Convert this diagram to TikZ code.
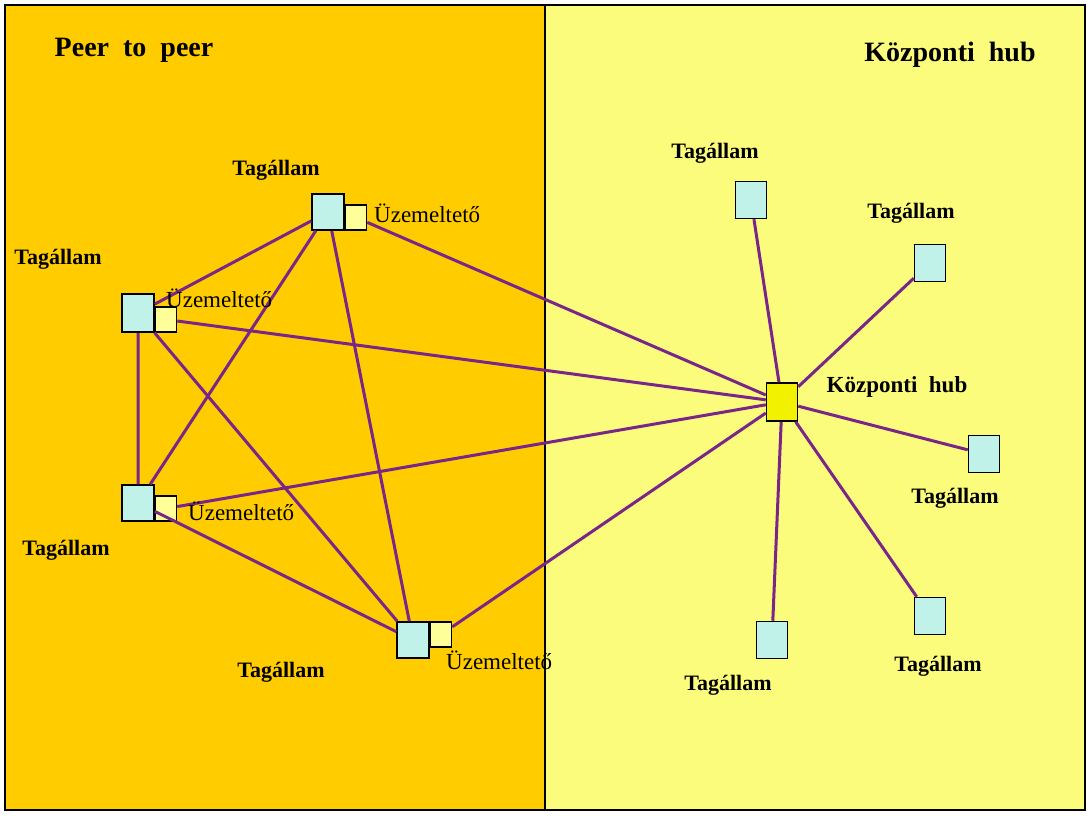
\documentclass[tikz,border=0pt]{standalone}
\usepackage{fontspec}
\setmainfont{Liberation Serif}
\usetikzlibrary{positioning}
\definecolor{peerbg}{HTML}{FFCC00}
\definecolor{hubbg}{HTML}{FCFC7C}
\definecolor{tagfill}{HTML}{C0F2EA}
\definecolor{uzemfill}{HTML}{FFFF99}
\definecolor{hubfill}{HTML}{F2F200}
\definecolor{linkcol}{HTML}{7A2588}

\begin{document}
\begin{tikzpicture}[x = 1pt, y = -1pt,
	tagbox/.style = {draw, line width = 1.5pt, fill = tagfill, minimum width = 31pt, minimum height = 37pt, inner sep = 0pt},
	uzembox/.style = {draw, line width = 1.5pt, fill = uzemfill, minimum width = 21pt, minimum height = 25pt, inner sep = 0pt},
	hubbox/.style = {draw, line width = 1.5pt, fill = hubfill, minimum width = 31pt, minimum height = 38pt, inner sep = 0pt},
	tagtext/.style = {font = \fontsize{22}{25}\selectfont\bfseries, inner sep = 0pt},
	uzemtext/.style = {font = \fontsize{23}{26}\selectfont, inner sep = 0pt, anchor = west},
	title/.style = {font = \fontsize{28}{32}\selectfont\bfseries, inner sep = 0pt},
	link/.style = {linkcol, line width = 3pt}]
	\useasboundingbox (0,0) rectangle (1091,817);
	% background panels
	\fill [peerbg] (5,5) rectangle (545,810);
	\fill [hubbg] (545,5) rectangle (1085,810);
	\draw [line width = 1.6pt] (5,5) rectangle (1085,810);
	\draw [line width = 2pt] (545,5) -- (545,810);
	\node [title] (ptitle) at (134,50) {Peer\ \ to\ \ peer};
	\node [title] (htitle) at (950,55) {Központi\ \ hub};
	% peer to peer side
	\node [tagbox, minimum width = 32pt, minimum height = 36pt] (p1) at (328,212) {};
	\node [tagbox, minimum width = 32pt, minimum height = 38pt] (p2) at (138,313) {};
	\node [tagbox, minimum width = 32pt, minimum height = 36pt] (p3) at (138,503) {};
	\node [tagbox, minimum width = 32pt, minimum height = 36pt] (p4) at (413,640) {};
	\node [uzembox, anchor = south west] (u1) at (p1.south east) {};
	\node [uzembox, anchor = south west] (u2) at (p2.south east) {};
	\node [uzembox, anchor = south west] (u3) at (p3.south east) {};
	\node [uzembox, anchor = north west] (u4) at (p4.north east) {};
	% hub side
	\node [hubbox] (hub) at (782,402) {};
	\node [tagbox] (r1) at (751,200) {};
	\node [tagbox] (r2) at (930,263) {};
	\node [tagbox] (r3) at (984,454) {};
	\node [tagbox] (r4) at (930,616) {};
	\node [tagbox] (r5) at (772,640) {};
	% connections
	\draw [link] (p1) -- (p2) (p1) -- (p3) (p1) -- (p4);
	\draw [link] (p2) -- (p3) (p2) -- (p4) (p3) -- (p4);
	\draw [link] (u1) -- (hub) (u2) -- (hub) (u3) -- (hub) (u4) -- (hub);
	\draw [link] (hub) -- (r1) (hub) -- (r2) (hub) -- (r3) (hub) -- (r4) (hub) -- (r5);
	% labels
	\node [tagtext] (lp1) at (276,170) {Tagállam};
	\node [tagtext] (lp2) at (58,259) {Tagállam};
	\node [tagtext] (lp3) at (66,550) {Tagállam};
	\node [tagtext] (lp4) at (281,672) {Tagállam};
	\node [uzemtext] (lu1) at (374,213) {Üzemeltető};
	\node [uzemtext] (lu2) at (166,298) {Üzemeltető};
	\node [uzemtext] (lu3) at (188,511) {Üzemeltető};
	\node [uzemtext] (lu4) at (446,660) {Üzemeltető};
	\node [tagtext] (lr1) at (715,153) {Tagállam};
	\node [tagtext] (lr2) at (911,213) {Tagállam};
	\node [tagtext] (lr3) at (955,498) {Tagállam};
	\node [tagtext] (lr4) at (938,666) {Tagállam};
	\node [tagtext] (lr5) at (728,685) {Tagállam};
	\node [tagtext, font = \fontsize{23}{26}\selectfont\bfseries] (lhub) at (897,387) {Központi\ \ hub};
\end{tikzpicture}
\end{document}
